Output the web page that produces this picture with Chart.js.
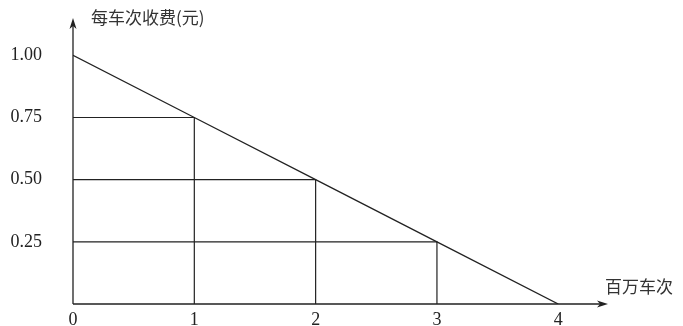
<!DOCTYPE html>
<html lang="zh">
<head>
<meta charset="UTF-8">
<title>每车次收费</title>
<script src="https://cdn.jsdelivr.net/npm/chart.js"></script>
<style>
    body { margin: 0; background: #fff; }
    .box { width: 683px; height: 326px; position: relative; }
</style>
</head>
<body>
<div class="box"><canvas id="fare"></canvas></div>
<script>
// 数据
const riders = [0, 1, 2, 3, 4];            // 百万车次
const fares = [1.00, 0.75, 0.50, 0.25, 0]; // 每车次收费(元)
const xTicks = [0, 1, 2, 3, 4];
const yTicks = [0.25, 0.50, 0.75, 1.00];
const yTitle = '每车次收费(元)';
const xTitle = '百万车次';

const ink = '#222';

// 需求线
const datasets = [{
    data: riders.map((x, i) => ({ x: x, y: fares[i] })),
    borderColor: ink, borderWidth: 1.3, pointRadius: 0
}];
// 各点的辅助线 (到两轴)
for (let i = 1; i < riders.length - 1; i++) {
    datasets.push({
        data: [{ x: 0, y: fares[i] }, { x: riders[i], y: fares[i] }, { x: riders[i], y: 0 }],
        borderColor: ink, borderWidth: 1.2, pointRadius: 0
    });
}

// 画坐标轴箭头和轴标题
const axesPlugin = {
    id: 'axes',
    afterDatasetsDraw(chart) {
        const ctx = chart.ctx;
        const a = chart.chartArea;
        const x0 = chart.scales.x.getPixelForValue(0);
        const y0 = chart.scales.y.getPixelForValue(0);
        ctx.save();
        ctx.strokeStyle = ink;
        ctx.fillStyle = ink;
        ctx.lineWidth = 1.3;
        ctx.beginPath();
        ctx.moveTo(x0, y0); ctx.lineTo(x0, a.top + 4);
        ctx.moveTo(x0, y0); ctx.lineTo(a.right - 4, y0);
        ctx.stroke();
        // 箭头
        ctx.beginPath();
        ctx.moveTo(x0, a.top); ctx.lineTo(x0 - 3.5, a.top + 11); ctx.lineTo(x0, a.top + 8); ctx.lineTo(x0 + 3.5, a.top + 11);
        ctx.closePath(); ctx.fill();
        ctx.beginPath();
        ctx.moveTo(a.right, y0); ctx.lineTo(a.right - 11, y0 - 3.5); ctx.lineTo(a.right - 8, y0); ctx.lineTo(a.right - 11, y0 + 3.5);
        ctx.closePath(); ctx.fill();
        // 轴标题
        ctx.font = '17px "Noto Sans CJK SC"';
        ctx.fillStyle = '#333';
        ctx.textBaseline = 'middle';
        ctx.textAlign = 'left';
        ctx.fillText(yTitle, x0 + 18, a.top);
        ctx.fillText(xTitle, a.right - 3, y0 - 17);
        ctx.restore();
    }
};

new Chart(document.getElementById('fare'), {
    type: 'line',
    data: { datasets: datasets },
    options: {
        responsive: true,
        maintainAspectRatio: false,
        animation: false,
        layout: { padding: { top: 18, right: 75, left: 0, bottom: 0 } },
        plugins: { legend: { display: false }, tooltip: { enabled: false } },
        elements: { line: { tension: 0 } },
        scales: {
            x: {
                type: 'linear', min: 0, max: 4.41,
                grid: { display: false, drawTicks: false },
                border: { display: false },
                afterBuildTicks: s => { s.ticks = xTicks.map(v => ({ value: v })); },
                afterFit: s => { s.height = 22; s.paddingLeft = 0; s.paddingRight = 0; },
                ticks: {
                    padding: 5, color: '#222',
                    font: { family: '"Liberation Serif"', size: 18 },
                    callback: v => String(v)
                }
            },
            y: {
                type: 'linear', min: 0, max: 1.15,
                grid: { display: false, drawTicks: false },
                border: { display: false },
                afterBuildTicks: s => { s.ticks = yTicks.map(v => ({ value: v })); },
                afterFit: s => { s.width = 73; s.paddingTop = 0; s.paddingBottom = 0; },
                ticks: {
                    padding: 31, color: '#222',
                    font: { family: '"Liberation Serif"', size: 18 },
                    callback: v => Number(v).toFixed(2)
                }
            }
        }
    },
    plugins: [axesPlugin]
});
</script>
</body>
</html>
